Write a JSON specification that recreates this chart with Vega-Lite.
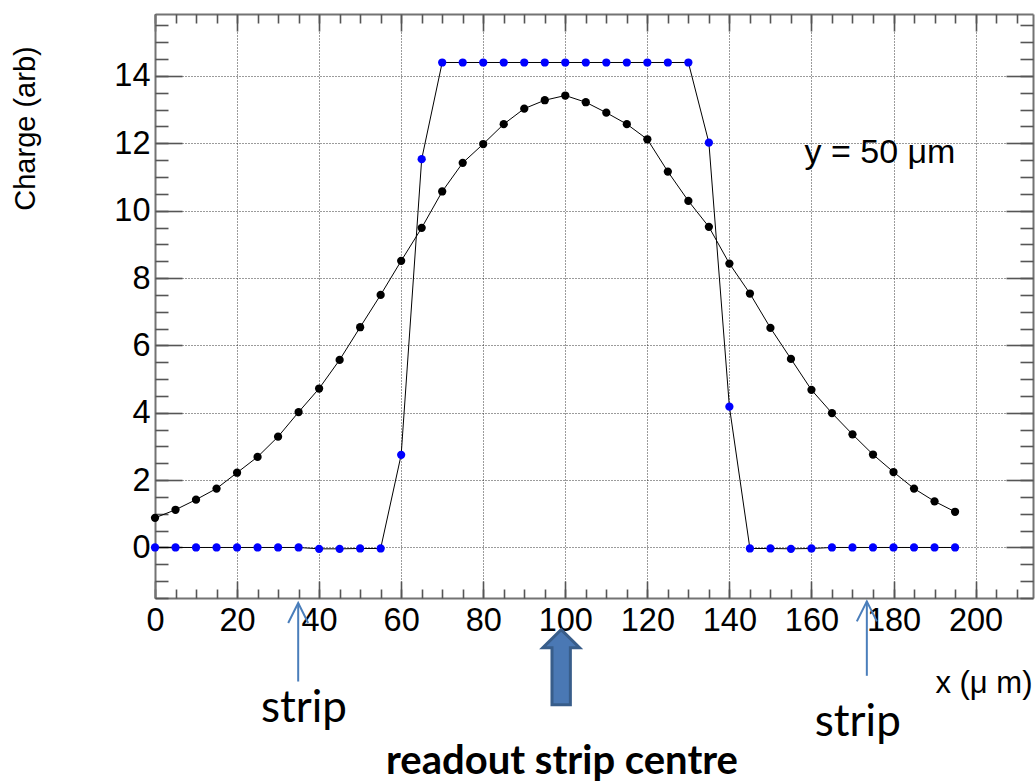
{
  "$schema": "https://vega.github.io/schema/vega-lite/v6.json",
  "autosize": {"type": "none"},
  "padding": {"left": 155, "top": 14, "right": 3, "bottom": 185},
  "width": 878,
  "height": 584,
  "config": {
    "view": {"stroke": null},
    "font": "Liberation Sans",
    "axis": {
      "grid": false,
      "gridColor": "#222222",
      "gridDash": [1, 2],
      "gridWidth": 1,
      "gridOpacity": 0.9,
      "domainColor": "#737373",
      "domainWidth": 2,
      "tickColor": "#555555",
      "tickWidth": 1.6,
      "labelColor": "#000000",
      "labelFont": "Liberation Sans",
      "labelFontSize": 32.5,
      "labelFlush": false,
      "labelOverlap": false,
      "titleColor": "#000000",
      "titleFont": "Liberation Sans",
      "titleFontWeight": "normal"
    }
  },
  "datasets": {
    "charge": [
      {"x": 0, "q": 0.88, "s": "A"}, {"x": 5, "q": 1.12, "s": "A"}, {"x": 10, "q": 1.42, "s": "A"}, {"x": 15, "q": 1.75, "s": "A"},
      {"x": 20, "q": 2.22, "s": "A"}, {"x": 25, "q": 2.69, "s": "A"}, {"x": 30, "q": 3.29, "s": "A"}, {"x": 35, "q": 4.02, "s": "A"},
      {"x": 40, "q": 4.72, "s": "A"}, {"x": 45, "q": 5.57, "s": "A"}, {"x": 50, "q": 6.54, "s": "A"}, {"x": 55, "q": 7.5, "s": "A"},
      {"x": 60, "q": 8.51, "s": "A"}, {"x": 65, "q": 9.49, "s": "A"}, {"x": 70, "q": 10.57, "s": "A"}, {"x": 75, "q": 11.42, "s": "A"},
      {"x": 80, "q": 11.98, "s": "A"}, {"x": 85, "q": 12.57, "s": "A"}, {"x": 90, "q": 13.03, "s": "A"}, {"x": 95, "q": 13.28, "s": "A"},
      {"x": 100, "q": 13.42, "s": "A"}, {"x": 105, "q": 13.22, "s": "A"}, {"x": 110, "q": 12.91, "s": "A"}, {"x": 115, "q": 12.57, "s": "A"},
      {"x": 120, "q": 12.12, "s": "A"}, {"x": 125, "q": 11.16, "s": "A"}, {"x": 130, "q": 10.29, "s": "A"}, {"x": 135, "q": 9.52, "s": "A"},
      {"x": 140, "q": 8.43, "s": "A"}, {"x": 145, "q": 7.54, "s": "A"}, {"x": 150, "q": 6.52, "s": "A"}, {"x": 155, "q": 5.6, "s": "A"},
      {"x": 160, "q": 4.68, "s": "A"}, {"x": 165, "q": 3.99, "s": "A"}, {"x": 170, "q": 3.36, "s": "A"}, {"x": 175, "q": 2.76, "s": "A"},
      {"x": 180, "q": 2.24, "s": "A"}, {"x": 185, "q": 1.75, "s": "A"}, {"x": 190, "q": 1.37, "s": "A"}, {"x": 195, "q": 1.06, "s": "A"},
      {"x": 0, "q": 0, "s": "B"}, {"x": 5, "q": 0, "s": "B"}, {"x": 10, "q": 0, "s": "B"}, {"x": 15, "q": 0, "s": "B"},
      {"x": 20, "q": 0, "s": "B"}, {"x": 25, "q": 0, "s": "B"}, {"x": 30, "q": 0, "s": "B"}, {"x": 35, "q": 0, "s": "B"},
      {"x": 40, "q": -0.04, "s": "B"}, {"x": 45, "q": -0.04, "s": "B"}, {"x": 50, "q": -0.03, "s": "B"}, {"x": 55, "q": -0.03, "s": "B"},
      {"x": 60, "q": 2.75, "s": "B"}, {"x": 65, "q": 11.53, "s": "B"}, {"x": 70, "q": 14.4, "s": "B"}, {"x": 75, "q": 14.4, "s": "B"},
      {"x": 80, "q": 14.4, "s": "B"}, {"x": 85, "q": 14.4, "s": "B"}, {"x": 90, "q": 14.4, "s": "B"}, {"x": 95, "q": 14.4, "s": "B"},
      {"x": 100, "q": 14.4, "s": "B"}, {"x": 105, "q": 14.4, "s": "B"}, {"x": 110, "q": 14.4, "s": "B"}, {"x": 115, "q": 14.4, "s": "B"},
      {"x": 120, "q": 14.4, "s": "B"}, {"x": 125, "q": 14.4, "s": "B"}, {"x": 130, "q": 14.4, "s": "B"}, {"x": 135, "q": 12.02, "s": "B"},
      {"x": 140, "q": 4.18, "s": "B"}, {"x": 145, "q": -0.03, "s": "B"}, {"x": 150, "q": -0.03, "s": "B"}, {"x": 155, "q": -0.04, "s": "B"},
      {"x": 160, "q": -0.03, "s": "B"}, {"x": 165, "q": 0, "s": "B"}, {"x": 170, "q": 0, "s": "B"}, {"x": 175, "q": 0, "s": "B"},
      {"x": 180, "q": 0, "s": "B"}, {"x": 185, "q": 0, "s": "B"}, {"x": 190, "q": 0, "s": "B"}, {"x": 195, "q": 0, "s": "B"}
    ],
    "notes": [
      {"kind": "label", "x": 158.3, "y": 11.41, "text": "y = 50 μm"},
      {"kind": "strip", "x": 36.3, "y": -5.19, "text": "strip"},
      {"kind": "strip", "x": 171.3, "y": -5.59, "text": "strip"},
      {"kind": "centre", "x": 99.2, "y": -6.72, "text": "readout strip centre"},
      {"kind": "thin", "x": 34.9, "y": -1.65, "y2": -3.98},
      {"kind": "thin", "x": 173.5, "y": -1.6, "y2": -3.81},
      {"kind": "thick", "x": 99, "y": -2.44}
    ]
  },
  "layer": [
    {
      "data": {"name": "charge"},
      "mark": {"type": "line", "stroke": "#000000", "strokeWidth": 1},
      "encoding": {
        "x": {"field": "x", "type": "quantitative", "scale": {"domain": [0, 214], "nice": false, "zero": false},
          "axis": {"orient": "bottom", "values": [0, 20, 40, 60, 80, 100, 120, 140, 160, 180, 200], "grid": true, "tickSize": -17, "labelPadding": 23,
            "title": "x (μ m)", "titleFontSize": 31, "titleX": 877, "titleY": 94, "titleAlign": "right", "titleBaseline": "alphabetic", "titleAngle": 0}},
        "y": {"field": "q", "type": "quantitative", "scale": {"domain": [-1.5, 15.84], "nice": false, "zero": false},
          "axis": {"orient": "left", "values": [0, 2, 4, 6, 8, 10, 12, 14], "grid": true, "tickSize": -27, "labelPadding": 32,
            "title": "Charge (arb)", "titleFontSize": 29, "titleX": -121, "titleY": 114, "titleAngle": -90, "titleAlign": "center", "titleBaseline": "alphabetic"}},
        "detail": {"field": "s", "type": "nominal"}
      }
    },
    {
      "data": {"name": "charge"},
      "mark": {"type": "circle", "size": 68, "opacity": 1},
      "encoding": {
        "x": {"field": "x", "type": "quantitative", "scale": {"domain": [0, 214], "nice": false, "zero": false},
          "axis": {"orient": "bottom", "values": [0,5,10,15,20,25,30,35,40,45,50,55,60,65,70,75,80,85,90,95,100,105,110,115,120,125,130,135,140,145,150,155,160,165,170,175,180,185,190,195,200,205,210],
            "labels": false, "domain": false, "tickSize": -9, "title": null}},
        "y": {"field": "q", "type": "quantitative", "scale": {"domain": [-1.5, 15.84], "nice": false, "zero": false},
          "axis": {"orient": "left", "values": [-1.5,-1,-0.5,0,0.5,1,1.5,2,2.5,3,3.5,4,4.5,5,5.5,6,6.5,7,7.5,8,8.5,9,9.5,10,10.5,11,11.5,12,12.5,13,13.5,14,14.5,15,15.5],
            "labels": false, "domain": false, "tickSize": -13, "title": null}},
        "color": {"field": "s", "type": "nominal", "scale": {"domain": ["A", "B"], "range": ["#000000", "#0000ff"]}, "legend": null}
      }
    },
    {
      "data": {"name": "notes"},
      "transform": [{"filter": "datum.kind === 'label'"}],
      "mark": {"type": "text", "font": "Liberation Sans", "fontSize": 34, "align": "left", "baseline": "alphabetic", "color": "#000000"},
      "encoding": {
        "x": {"field": "x", "type": "quantitative", "scale": {"domain": [0, 214], "nice": false, "zero": false},
          "axis": {"orient": "top", "values": [0, 20, 40, 60, 80, 100, 120, 140, 160, 180, 200], "labels": false, "tickSize": -17, "title": null}},
        "y": {"field": "y", "type": "quantitative", "scale": {"domain": [-1.5, 15.84], "nice": false, "zero": false},
          "axis": {"orient": "right", "values": [0, 2, 4, 6, 8, 10, 12, 14], "labels": false, "tickSize": -27, "title": null}},
        "text": {"field": "text"}
      }
    },
    {
      "data": {"name": "notes"},
      "transform": [{"filter": "datum.kind === 'thin'"}],
      "mark": {"type": "rule", "stroke": "#4a7ebb", "strokeWidth": 2},
      "encoding": {
        "x": {"field": "x", "type": "quantitative", "scale": {"domain": [0, 214], "nice": false, "zero": false},
          "axis": {"orient": "top", "values": [0,5,10,15,20,25,30,35,40,45,50,55,60,65,70,75,80,85,90,95,100,105,110,115,120,125,130,135,140,145,150,155,160,165,170,175,180,185,190,195,200,205,210],
            "labels": false, "domain": false, "tickSize": -9, "title": null}},
        "y": {"field": "y", "type": "quantitative", "scale": {"domain": [-1.5, 15.84], "nice": false, "zero": false},
          "axis": {"orient": "right", "values": [-1.5,-1,-0.5,0,0.5,1,1.5,2,2.5,3,3.5,4,4.5,5,5.5,6,6.5,7,7.5,8,8.5,9,9.5,10,10.5,11,11.5,12,12.5,13,13.5,14,14.5,15,15.5],
            "labels": false, "domain": false, "tickSize": -13, "title": null}},
        "y2": {"field": "y2"}
      }
    },
    {
      "data": {"name": "notes"},
      "transform": [{"filter": "datum.kind === 'thin'"}],
      "mark": {"type": "point", "shape": "M-0.5,1L0,0L0.5,1", "size": 1600, "filled": false, "stroke": "#4a7ebb", "strokeWidth": 2, "opacity": 1},
      "encoding": {
        "x": {"field": "x", "type": "quantitative", "axis": null},
        "y": {"field": "y", "type": "quantitative", "axis": null}
      }
    },
    {
      "data": {"name": "notes"},
      "transform": [{"filter": "datum.kind === 'thick'"}],
      "mark": {"type": "point", "shape": "M0,0L0.49,0.48L0.245,0.48L0.245,2L-0.245,2L-0.245,0.48L-0.49,0.48Z", "size": 5625, "filled": true, "fill": "#4a78b4", "stroke": "#385d8a", "strokeWidth": 3, "opacity": 1},
      "encoding": {
        "x": {"field": "x", "type": "quantitative", "axis": null},
        "y": {"field": "y", "type": "quantitative", "axis": null}
      }
    },
    {
      "data": {"name": "notes"},
      "transform": [{"filter": "datum.kind === 'strip'"}],
      "mark": {"type": "text", "font": "Lato", "fontSize": 44, "align": "center", "baseline": "alphabetic", "color": "#000000"},
      "encoding": {
        "x": {"field": "x", "type": "quantitative", "axis": null},
        "y": {"field": "y", "type": "quantitative", "axis": null},
        "text": {"field": "text"}
      }
    },
    {
      "data": {"name": "notes"},
      "transform": [{"filter": "datum.kind === 'centre'"}],
      "mark": {"type": "text", "font": "Lato", "fontSize": 40, "fontWeight": "bold", "align": "center", "baseline": "alphabetic", "color": "#000000"},
      "encoding": {
        "x": {"field": "x", "type": "quantitative", "axis": null},
        "y": {"field": "y", "type": "quantitative", "axis": null},
        "text": {"field": "text"}
      }
    }
  ],
  "resolve": {"axis": {"x": "independent", "y": "independent"}}
}
